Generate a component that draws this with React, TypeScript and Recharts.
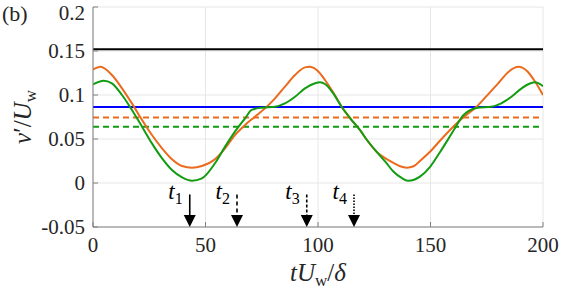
import { ComposedChart, Line, XAxis, YAxis, CartesianGrid, ReferenceLine, Scatter, Label } from 'recharts';

// orange: v'/U_w, first signal
const tOrange = [0, 3.3, 8.4, 12.9, 17.3, 21.8, 26.2, 30.7, 35.1, 39.6, 44, 48.4, 54.2, 58.7, 63.1, 67.6, 72, 76.4, 80.9, 85.3, 89.8, 94.2, 96.4, 100.9, 103.1, 107, 110.5, 114.5, 118.7, 122, 126, 130, 133.5, 136.5, 139.4, 142.5, 145.3, 150, 154.2, 160.1, 165, 170.5, 175, 180, 185, 189, 193, 196, 200];
const vOrange = [0.129, 0.132, 0.1227, 0.1076, 0.0905, 0.0716, 0.0545, 0.0394, 0.027, 0.0193, 0.0174, 0.0193, 0.027, 0.0394, 0.0545, 0.066, 0.0754, 0.0848, 0.0962, 0.1095, 0.1227, 0.1314, 0.132, 0.1246, 0.117, 0.102, 0.0867, 0.073, 0.06, 0.048, 0.0356, 0.028, 0.023, 0.019, 0.0174, 0.019, 0.025, 0.036, 0.048, 0.064, 0.0755, 0.0867, 0.099, 0.113, 0.127, 0.132, 0.127, 0.117, 0.1];

// green: second signal
const tGreen = [0, 4.7, 8.4, 12.9, 17.3, 21.8, 26.2, 30.7, 35.1, 39.6, 44, 48.4, 54.2, 58.7, 63.1, 67.6, 70.5, 75, 80.9, 85.3, 89.8, 94.2, 98.7, 100.9, 103.1, 107, 110.5, 114.5, 118.7, 122, 126, 130, 133.5, 137, 140, 143, 145.3, 150, 154.2, 160.1, 164.6, 167, 171, 177, 181.5, 186, 190.5, 194.5, 196.5, 200];
const vGreen = [0.112, 0.1163, 0.1133, 0.1, 0.083, 0.064, 0.045, 0.028, 0.0148, 0.0064, 0.0026, 0.0053, 0.0224, 0.0413, 0.0583, 0.0735, 0.083, 0.0856, 0.0867, 0.0905, 0.098, 0.1076, 0.1133, 0.1144, 0.1125, 0.101, 0.0867, 0.073, 0.06, 0.048, 0.0356, 0.024, 0.013, 0.006, 0.0026, 0.004, 0.0072, 0.019, 0.035, 0.059, 0.077, 0.082, 0.0855, 0.0867, 0.0905, 0.098, 0.1076, 0.1133, 0.1144, 0.11];

// horizontal levels
const levelBlack = 0.152;
const levelBlue = 0.0865;
const levelOrange = 0.0745;
const levelGreen = 0.064;

// time instants
const arrowT = [43, 64, 95, 116];
const arrowLabels = ['1', '2', '3', '4'];
const arrowDash = ['', '4 3', '3 2', '1.5 1.5'];
const arrowTop = -0.013;
const arrowShaftEnd = -0.038;
const arrowTip = -0.05;

const xTicks = [0, 50, 100, 150, 200];
const yTicks = [-0.05, 0, 0.05, 0.1, 0.15, 0.2];

const orangeData = tOrange.map((t, i) => ({ t, v: vOrange[i] }));
const greenData = tGreen.map((t, i) => ({ t, v: vGreen[i] }));
const arrowData = arrowT.map((t, i) => ({ t, v: arrowTip, label: arrowLabels[i] }));

const FONT = "'Liberation Serif', 'DejaVu Serif', serif";
const ORANGE = '#EC6A1C';
const GREEN = '#129C12';
const AXIS = '#808080';
const TEXT = '#262626';
const serif = { fontFamily: FONT };

const ArrowHead = (props: any) => {
  const { cx, cy, payload } = props;
  return (
    <g>
      <polygon points={`${cx - 6},${cy - 12} ${cx + 6},${cy - 12} ${cx},${cy}`} fill="#000" />
      <text x={cx - 7} y={cy - 28} textAnchor="end" style={{ ...serif, fontSize: 23 }} fill="#000">
        <tspan fontStyle="italic">t</tspan>
        <tspan style={{ fontSize: 16 }} dy={5}>{payload.label}</tspan>
      </text>
    </g>
  );
};

const YLabel = () => (
  <g>
    <text x={2} y={21} style={{ ...serif, fontSize: 22 }} fill={TEXT}>(b)</text>
    <text transform="translate(31, 117) rotate(-90)" textAnchor="middle" style={{ ...serif, fontSize: 25 }} fill={TEXT}>
      <tspan fontStyle="italic">v</tspan>
      <tspan>′/</tspan>
      <tspan fontStyle="italic">U</tspan>
      <tspan style={{ fontSize: 17 }} dy={5}>w</tspan>
    </text>
  </g>
);

const XLabel = () => (
  <text x={318} y={281} textAnchor="middle" style={{ ...serif, fontSize: 25 }} fill={TEXT}>
    <tspan fontStyle="italic">tU</tspan>
    <tspan style={{ fontSize: 17 }} dy={5}>w</tspan>
    <tspan dy={-5}>/</tspan>
    <tspan fontStyle="italic">δ</tspan>
  </text>
);

const noText = () => '';

export default function App() {
  const tickStyle = { fontFamily: FONT, fontSize: 21, fill: TEXT, style: serif };
  return (
    <div style={{ position: 'absolute', left: 0, top: 0, width: 581, height: 289, background: '#fff', fontFamily: FONT }}>
      <ComposedChart width={581} height={289} margin={{ top: 7, right: 38, left: 0, bottom: 0 }} style={serif}>
        <CartesianGrid stroke="#E6E6E6" />
        <XAxis
          dataKey="t"
          type="number"
          domain={[0, 200]}
          ticks={xTicks}
          allowDataOverflow
          height={62}
          tick={tickStyle}
          tickSize={-5}
          tickLine={{ stroke: AXIS }}
          tickMargin={15}
          axisLine={{ stroke: AXIS }}
        >
          <Label content={XLabel} />
        </XAxis>
        <XAxis xAxisId="top" orientation="top" type="number" domain={[0, 200]} ticks={xTicks} height={0} tickFormatter={noText} tickSize={-5} tickLine={{ stroke: AXIS }} axisLine={{ stroke: AXIS }} />
        <YAxis
          type="number"
          domain={[-0.05, 0.2]}
          ticks={yTicks}
          allowDataOverflow
          width={93}
          tick={tickStyle}
          tickSize={-5}
          tickLine={{ stroke: AXIS }}
          tickMargin={13}
          axisLine={{ stroke: AXIS }}
        >
          <Label content={YLabel} />
        </YAxis>
        <YAxis yAxisId="right" orientation="right" type="number" domain={[-0.05, 0.2]} ticks={yTicks} width={0} tickFormatter={noText} tickSize={-5} tickLine={{ stroke: AXIS }} axisLine={{ stroke: AXIS }} />

        <ReferenceLine y={levelBlack} stroke="#000" strokeWidth={2} />
        <ReferenceLine y={levelBlue} stroke="#0000FF" strokeWidth={2} />
        <ReferenceLine y={levelOrange} stroke={ORANGE} strokeWidth={2} strokeDasharray="6 4" />
        <ReferenceLine y={levelGreen} stroke={GREEN} strokeWidth={2} strokeDasharray="6 4" />

        <Line data={orangeData} dataKey="v" type="monotone" stroke={ORANGE} strokeWidth={2} dot={false} isAnimationActive={false} />
        <Line data={greenData} dataKey="v" type="monotone" stroke={GREEN} strokeWidth={2} dot={false} isAnimationActive={false} />

        {arrowT.map((t, i) => (
          <ReferenceLine
            key={t}
            segment={[{ x: t, y: arrowTop }, { x: t, y: arrowShaftEnd }]}
            stroke="#000"
            strokeWidth={1.6}
            strokeDasharray={arrowDash[i]}
          />
        ))}
        <Scatter data={arrowData} dataKey="v" shape={ArrowHead} isAnimationActive={false} />
      </ComposedChart>
    </div>
  );
}
